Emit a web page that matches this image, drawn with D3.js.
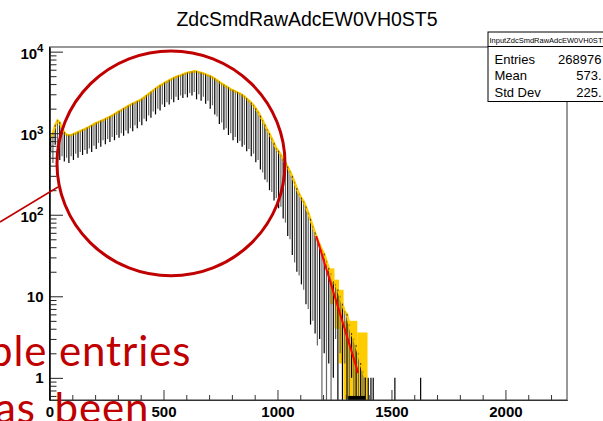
<!DOCTYPE html>
<html><head><meta charset="utf-8">
<script src="https://cdn.jsdelivr.net/npm/d3@7"></script>
<style>html,body{margin:0;padding:0;background:#fff;overflow:hidden}</style>
</head><body><svg id="c" width="603" height="421"></svg>
<script>
// ---------------- data ----------------
const chartTitle = "ZdcSmdRawAdcEW0VH0ST5";
const statsTitle = "InputZdcSmdRawAdcEW0VH0ST5";
const statsLabels = ["Entries", "Mean", "Std Dev"];
const statsValues = ["268976", "573.", "225."];
const xMajorTicks = [0, 500, 1000, 1500, 2000];
const xMinorTicks = [100,200,300,400,600,700,800,900,1100,1200,1300,1400,1600,1700,1800,1900,2100,2200];
const yMajorTicks = [1, 10, 100, 1000, 10000];
const yTickLabels = [["1",""], ["10",""], ["10","2"], ["10","3"], ["10","4"]];
const binStart = 0, binWidth = 10;
// top of each spike (histogram envelope)
const upper = [880,1000,1250,1430,1350,1150,1020,960,940,950,
  975,1000,1030,1060,1090,1120,1160,1200,1240,1290,
  1330,1370,1410,1450,1490,1540,1590,1650,1710,1780,
  1850,1920,2000,2080,2150,2230,2310,2380,2450,2520,
  2620,2750,2880,3020,3180,3350,3520,3680,3830,3980,
  4150,4300,4450,4600,4750,4900,5020,5100,5250,5400,
  5500,5600,5650,5750,5700,5600,5500,5400,5250,5100,
  5000,4850,4650,4450,4250,4050,3900,3750,3600,3450,
  3350,3250,3150,3070,2950,2820,2650,2500,2350,2200,
  2000,1820,1620,1430,1260,1110,980,860,750,650,
  600,540,480,430,385,340,295,250,210,180,
  160,145,125,105,88,72,60,50,43,37,
  33,27,22,19,15,14,12,10,8,6.5,
  6,4.5,3.5,3,2.5,2,1.5,1.2,1];
// bottom of each spike
const lower = [600,430,720,560,470,520,450,500,430,520,
  470,560,500,590,540,620,560,650,590,700,
  640,760,680,820,730,850,780,900,820,950,
  880,1000,930,1080,990,1150,1060,1250,1150,1380,
  1250,1500,1400,1650,1550,1850,1700,2000,1900,2250,
  2100,2400,2250,2600,2400,2800,2550,2900,2700,3000,
  2750,3100,2900,3200,2600,3000,2500,2800,2300,2500,
  2000,2200,1700,1600,1300,1350,1100,1150,950,1000,
  820,900,760,800,680,720,600,640,520,560,
  440,470,360,330,270,250,200,190,150,160,
  120,125,90,80,55,50,32,26,20,18,
  14,12,8,7,4.5,5,3.5,2.5,3,0,
  2,0,1.5,0,1,3,0,2,0,1.5,
  0,0,1,0,0,0,0,0,0];
// yellow error boxes in the tail
const boxStart = [1230, 1250, 1270, 1290, 1350];
const boxEnd   = [1250, 1270, 1290, 1350, 1395];
const boxHi    = [22, 16, 12, 5, 3.6];
const boxLo    = [8, 4, 1.5, 0.55, 0];
// dense run of low bins at the bottom of the tail
const denseStart = [1310], denseEnd = [1385], denseVal = [0.6];
// isolated single-entry bins
const singleAdc = [1398, 1410, 1420, 1515, 1628];
const singleVal = [1, 1, 1, 1, 1];
// exponential fit
const fitAdc = [1170, 1354];
const fitVal = [55, 1.15];
const noteLines = ["ple entries", "as been"];

// ---------------- drawing ----------------
const svg = d3.select("#c");
const L = 49.5, R = 567, T = 47, B = 400;
const yMin = 0.535, yMax = 11400;
const x = d3.scaleLinear().domain([0, 2270]).range([L, R]);
const y = d3.scaleLog().domain([yMin, yMax]).range([B, T]);
const yv = v => (v <= yMin ? B : y(v));
const bc = i => binStart + binWidth * i + binWidth / 2;
const FONT = "'Liberation Sans', Arial, Helvetica, sans-serif";

svg.append("rect").attr("width", 603).attr("height", 421).attr("fill", "#fff");

// title
svg.append("text").attr("x", 307).attr("y", 26).attr("text-anchor", "middle")
  .attr("font-family", FONT).attr("font-size", 19.5).attr("fill", "#000").text(chartTitle);

const plot = svg.append("g");

// yellow tail boxes
plot.selectAll("rect.box").data(boxStart).join("rect").attr("class", "box")
  .attr("x", (d) => x(d)).attr("width", (d, i) => x(boxEnd[i]) - x(d))
  .attr("y", (d, i) => yv(boxHi[i])).attr("height", (d, i) => yv(boxLo[i]) - yv(boxHi[i]))
  .attr("fill", "#ffcc00");

// spikes
plot.selectAll("line.spk").data(upper).join("line").attr("class", "spk")
  .attr("x1", (d, i) => x(bc(i))).attr("x2", (d, i) => x(bc(i)))
  .attr("y1", d => yv(d)).attr("y2", (d, i) => yv(lower[i]))
  .attr("stroke", (d, i) => i % 2 ? "#666" : "#000").attr("stroke-width", 1.2);

// yellow band along envelope
plot.append("path").datum(upper)
  .attr("d", d3.line().x((d, i) => x(bc(i))).y(d => yv(d)))
  .attr("fill", "none").attr("stroke", "#ffcc00").attr("stroke-width", 2.4);

// spike tops (small dark caps over the band)
plot.selectAll("line.cap").data(upper).join("line").attr("class", "cap")
  .attr("x1", (d, i) => x(bc(i))).attr("x2", (d, i) => x(bc(i)))
  .attr("y1", d => yv(d) - 0.5).attr("y2", d => yv(d) + 1.5)
  .attr("stroke", "#000").attr("stroke-width", 1).attr("stroke-opacity", (d, i) => i % 2 ? 0.35 : 0.75);

// dense low bins
plot.selectAll("rect.dense").data(denseStart).join("rect").attr("class", "dense")
  .attr("x", d => x(d)).attr("width", (d, i) => x(denseEnd[i]) - x(d))
  .attr("y", (d, i) => yv(denseVal[i])).attr("height", (d, i) => B - yv(denseVal[i]))
  .attr("fill", "#000");

// isolated bins
plot.selectAll("line.single").data(singleAdc).join("line").attr("class", "single")
  .attr("x1", d => x(d)).attr("x2", d => x(d))
  .attr("y1", (d, i) => yv(singleVal[i])).attr("y2", B)
  .attr("stroke", "#000").attr("stroke-width", 1.2);

// fit line
plot.append("path").datum(fitAdc)
  .attr("d", d3.line().x(d => x(d)).y((d, i) => yv(fitVal[i])))
  .attr("fill", "none").attr("stroke", "#ff0000").attr("stroke-width", 2);

// frame
svg.append("rect").attr("x", L).attr("y", T).attr("width", R - L).attr("height", B - T)
  .attr("fill", "none").attr("stroke", "#333").attr("stroke-width", 1);

// x axis
const xg = svg.append("g").attr("transform", `translate(0,${B})`);
xg.call(d3.axisBottom(x).tickValues(xMajorTicks).tickSizeInner(-10).tickSizeOuter(0).tickPadding(6.4).tickFormat(d3.format("d")));
xg.append("g").call(d3.axisBottom(x).tickValues(xMinorTicks).tickSizeInner(-5).tickSizeOuter(0).tickFormat(""));
xg.selectAll(".domain").attr("stroke", "#333");
xg.selectAll("line").attr("stroke", "#333");
xg.selectAll("text").attr("font-family", FONT).attr("font-weight", "bold").attr("font-size", 15).attr("fill", "#000");

// y axis
const yMinor = y.ticks().filter(v => !yMajorTicks.includes(v));
const yg = svg.append("g").attr("transform", `translate(${L},0)`);
yg.call(d3.axisLeft(y).tickValues(yMajorTicks).tickSizeInner(-13.5).tickSizeOuter(0).tickFormat(""));
yg.append("g").call(d3.axisLeft(y).tickValues(yMinor).tickSizeInner(-7).tickSizeOuter(0).tickFormat(""));
yg.selectAll(".domain").attr("stroke", "#000");
yg.selectAll("line").attr("stroke", "#222");
yMajorTicks.forEach((v, i) => {
  const [base, sup] = yTickLabels[i];
  const t = svg.append("text").attr("x", 43.5).attr("y", y(v) + (sup ? 7.2 : 5.3))
    .attr("text-anchor", "end").attr("font-family", FONT).attr("font-weight", "bold")
    .attr("font-size", 15).attr("fill", "#000");
  t.append("tspan").text(base);
  if (sup) t.append("tspan").attr("font-size", 11.5).attr("dy", -6.5).text(sup);
});

// stats box
const sb = svg.append("g");
sb.append("rect").attr("x", 488).attr("y", 32).attr("width", 130).attr("height", 69.5)
  .attr("fill", "#fff").attr("stroke", "#000").attr("stroke-width", 1);
sb.append("line").attr("x1", 488).attr("x2", 603).attr("y1", 46.5).attr("y2", 46.5).attr("stroke", "#000");
sb.append("text").attr("x", 489.5).attr("y", 42.5).attr("font-family", FONT).attr("font-size", 7.5).text(statsTitle);
statsLabels.forEach((s, i) => {
  sb.append("text").attr("x", 494.5).attr("y", 64 + 16.4 * i).attr("font-family", FONT).attr("font-size", 13).text(s);
  sb.append("text").attr("x", 601.5).attr("y", 64 + 16.4 * i).attr("text-anchor", "end").attr("font-family", FONT).attr("font-size", 13).text(statsValues[i]);
});

// slide annotations
const ann = svg.append("g");
ann.append("ellipse").attr("cx", 171).attr("cy", 163.4).attr("rx", 114).attr("ry", 112.4)
  .attr("fill", "none").attr("stroke", "#c00000").attr("stroke-width", 3);
ann.append("line").attr("x1", 0).attr("y1", 222).attr("x2", 58).attr("y2", 187)
  .attr("stroke", "#c00000").attr("stroke-width", 1.5);
ann.append("text").attr("x", -11).attr("y", 366).attr("font-family", "Lato, 'Open Sans', sans-serif")
  .attr("font-size", 42).attr("fill", "#c00000").style("letter-spacing", "0.9px").text(noteLines[0]);
ann.append("text").attr("x", -5).attr("y", 423).attr("font-family", "Lato, 'Open Sans', sans-serif")
  .attr("font-size", 42).attr("fill", "#c00000").style("letter-spacing", "0.9px").style("word-spacing", "7px").text(noteLines[1]);
</script>
</body></html>
